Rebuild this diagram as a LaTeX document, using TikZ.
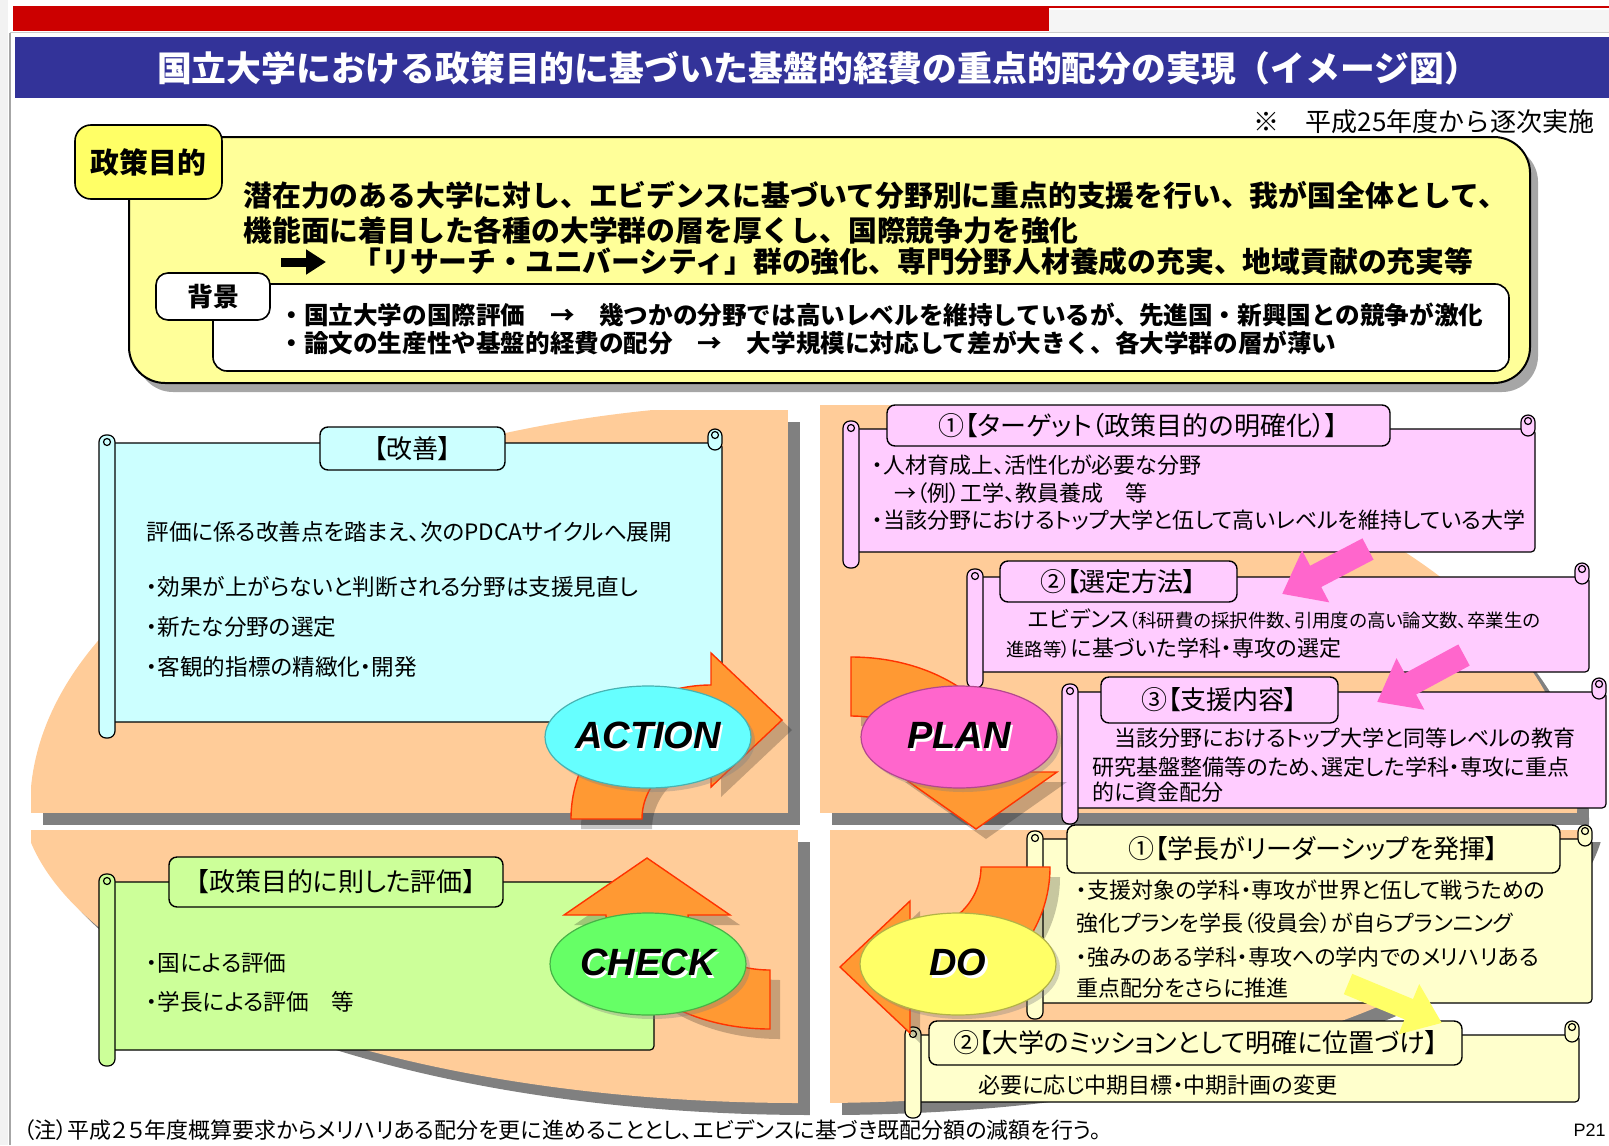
\documentclass[tikz,border=0pt]{standalone}
\usepackage{fontspec}
\setmainfont{Noto Sans CJK JP}
\newfontfamily\pfont{Noto Sans CJK JP}[RawFeature=+palt]
\newfontfamily\lsans{Liberation Sans}
\usetikzlibrary{arrows.meta,shapes.geometric,shadows}

\definecolor{redbar}{HTML}{CC0000}
\definecolor{bandblue}{HTML}{333399}
\definecolor{peach}{HTML}{FFCC99}
\definecolor{shadowgray}{HTML}{808080}
\definecolor{policy}{HTML}{FFFF99}
\definecolor{policytab}{HTML}{FFFF66}
\definecolor{cyanbox}{HTML}{CCFFFF}
\definecolor{pinkbox}{HTML}{FFCCFF}
\definecolor{creambox}{HTML}{FFFFCC}
\definecolor{greenbox}{HTML}{CCFF99}
\definecolor{bendfill}{HTML}{FF9933}
\definecolor{bendline}{HTML}{FF3300}
\definecolor{actcol}{HTML}{66FFFF}
\definecolor{plancol}{HTML}{FF66CC}
\definecolor{chkcol}{HTML}{66FF66}
\definecolor{docol}{HTML}{FFFF66}

% scroll shaped box: fill, x1, y1, x2, y2
\newcommand\rollbox[5]{%
  \filldraw[#1,draw=black,line width=0.6pt,rounded corners=2pt] (#2,#3) rectangle (#4,#5);
  \filldraw[#1,draw=black,line width=0.6pt,rounded corners=3.5pt] (#4-14,#3-14) rectangle (#4,#3+7);
  \draw[line width=0.6pt] (#4-7,#3-8) circle[radius=3.5];
  \filldraw[#1,draw=black,line width=0.6pt,rounded corners=3.5pt] (#2-8,#3-8) rectangle (#2+8,#5+16);
  \draw[line width=0.6pt] (#2,#3-1) circle[radius=3.5];
}
\newcommand\phasetext[1]{\makebox[0pt][l]{\hspace{1.2pt}\raisebox{-1.2pt}{\color{white}#1}}#1}

\begin{document}
\begin{tikzpicture}[x=0.5pt,y=-0.5pt,
  tab/.style={draw,rounded corners=4pt,line width=0.7pt,inner sep=0pt,font=\pfont\fontsize{13}{15}\selectfont},
  body/.style={anchor=west,inner sep=0pt,font=\pfont\fontsize{11}{13}\selectfont},
  bigbody/.style={body,font=\pfont\fontsize{11.3}{13}\selectfont},
  lead/.style={anchor=west,inner sep=0pt,font=\bfseries\fontsize{14.4}{16}\selectfont},
  back/.style={anchor=west,inner sep=0pt,font=\bfseries\fontsize{12.3}{14}\selectfont},
  phase/.style={ellipse,fill=#1,draw=#1!70!black,line width=0.6pt,minimum width=98pt,minimum height=51pt,
    inner sep=0pt,font=\lsans\bfseries\itshape\fontsize{19}{21}\selectfont,
    drop shadow={shadow xshift=2pt,shadow yshift=-2pt,opacity=.35}},
  cyclearrow/.style={fill=bendfill,draw=bendline,line width=0.7pt},
  cycleshadow/.style={fill=black,opacity=.22},
  pinkarrow/.style={draw=plancol,line width=12pt,-{Triangle[length=19pt,width=28pt]}},
  yelarrow/.style={draw=docol,line width=11pt,-{Triangle[length=18pt,width=26pt]}}
]
\useasboundingbox (0,0) rectangle (1609,1145);

% page frame and title band
\fill[gray!10] (0,0) rectangle (8,1145);
\fill[gray!8] (1049,10) rectangle (1609,32);
\draw[gray!70,line width=1pt] (10,33) -- (10,1145);
\draw[gray!40,line width=0.5pt] (10,33) -- (1609,33);
\fill[redbar] (13,6) rectangle (1049,31);
\fill[redbar] (1049,6) rectangle (1609,8);
\fill[bandblue] (15,37) rectangle (1609,98);
\node[font=\bfseries\fontsize{17.4}{20}\selectfont,text=white] (title) at (818,68)
  {国立大学における政策目的に基づいた基盤的経費の重点的配分の実現（イメージ図）};
\node[anchor=east,inner sep=0pt,font=\fontsize{13}{15}\selectfont] (note) at (1595,122) {※　平成25年度から逐次実施};

% policy box
\fill[black,opacity=.35,rounded corners=18pt] (137,146) rectangle (1538,392);
\filldraw[fill=policy,draw=black,line width=1pt,rounded corners=18pt] (129,137) rectangle (1530,383);
\node[draw,fill=policytab,rounded corners=8pt,line width=0.8pt,minimum width=73.5pt,minimum height=37pt,
  font=\bfseries\fontsize{14.4}{16}\selectfont] (aim) at (148.5,162) {政策目的};
\node[lead] (aim1) at (243,195) {潜在力のある大学に対し、エビデンスに基づいて分野別に重点的支援を行い、我が国全体として、};
\node[lead] (aim2) at (243,230) {機能面に着目した各種の大学群の層を厚くし、国際競争力を強化};
\coordinate (arrowtail) at (281,262);
\coordinate (arrowtip) at (326,262);
\draw[line width=4.5pt,-{Triangle[length=10pt,width=12pt]}] (arrowtail) -- (arrowtip);
\node[lead] (aim3) at (352,262) {「リサーチ・ユニバーシティ」群の強化、専門分野人材養成の充実、地域貢献の充実等};
\filldraw[fill=white,draw=black,line width=0.8pt,rounded corners=7pt] (213,284) rectangle (1509,371);
\node[draw,fill=white,rounded corners=6pt,line width=0.8pt,minimum width=57pt,minimum height=23.5pt,
  font=\bfseries\fontsize{13}{15}\selectfont] (bg) at (213,296.5) {背景};
\node[back] (bg1) at (279,315) {・国立大学の国際評価　→　幾つかの分野では高いレベルを維持しているが、先進国・新興国との競争が激化};
\node[back] (bg2) at (279,343) {・論文の生産性や基盤的経費の配分　→　大学規模に対応して差が大きく、各大学群の層が薄い};

% quadrants with shadows
\foreach \s/\c in {12/shadowgray,0/peach}{
  \begin{scope}[shift={(\s,\s)}]
    \begin{scope}\clip (795,808) ellipse [x radius=765,y radius=405]; \fill[\c] (31,410) rectangle (788,813); \end{scope}
    \begin{scope}\clip (812,808) ellipse [x radius=765,y radius=405]; \fill[\c] (820,405) rectangle (1582,813); \end{scope}
    \begin{scope}\clip (800,790) ellipse [x radius=780,y radius=313]; \fill[\c] (31,830) rectangle (798,1110); \end{scope}
    \begin{scope}\clip (815,790) ellipse [x radius=780,y radius=313]; \fill[\c] (830,830) rectangle (1590,1110); \end{scope}
  \end{scope}}

% ACTION box
\rollbox{cyanbox}{107}{443}{722}{722}
\node[tab,fill=cyanbox,minimum width=92.5pt,minimum height=21.5pt] (kaizen) at (412.5,448.5) {【改善】};
\node[bigbody] (k1) at (146,532) {評価に係る改善点を踏まえ、次のPDCAサイクルへ展開};
\node[bigbody] (k2) at (146,587) {・効果が上がらないと判断される分野は支援見直し};
\node[bigbody] (k3) at (146,627) {・新たな分野の選定};
\node[bigbody] (k4) at (146,667) {・客観的指標の精緻化・開発};

% PLAN boxes
\rollbox{pinkbox}{851}{429}{1535}{552}
\node[tab,fill=pinkbox,minimum width=251.5pt,minimum height=20.5pt] (target) at (1138.5,425.5) {①【ターゲット（政策目的の明確化）】};
\node[body] (t1) at (872,465) {・人材育成上、活性化が必要な分野};
\node[body] (t2) at (872,493) {　→（例）工学、教員養成　等};
\node[body] (t3) at (872,520) {・当該分野におけるトップ大学と伍して高いレベルを維持している大学};
\rollbox{pinkbox}{975}{577}{1589}{672}
\node[tab,fill=pinkbox,minimum width=118.5pt,minimum height=20.5pt] (method) at (1118.5,581.5) {②【選定方法】};
\node[body] (m1) at (1006,619) {　エビデンス{\fontsize{9.2}{11}\selectfont（科研費の採択件数、引用度の高い論文数、卒業生の}};
\node[body] (m2) at (1006,648) {{\fontsize{9.2}{11}\selectfont 進路等）}に基づいた学科・専攻の選定};
\rollbox{pinkbox}{1070}{692}{1606}{808}
\node[tab,fill=pinkbox,minimum width=118.5pt,minimum height=23pt] (support) at (1219.5,700) {③【支援内容】};
\node[body] (s1) at (1092,738) {　当該分野におけるトップ大学と同等レベルの教育};
\node[body] (s2) at (1092,767) {研究基盤整備等のため、選定した学科・専攻に重点};
\node[body] (s3) at (1092,792) {的に資金配分};

% DO boxes
\rollbox{creambox}{1035}{839}{1592}{1003}
\node[tab,fill=creambox,minimum width=246.5pt,minimum height=24pt] (lead) at (1313.5,849) {①【学長がリーダーシップを発揮】};
\node[body] (l1) at (1076,890) {・支援対象の学科・専攻が世界と伍して戦うための};
\node[body] (l2) at (1076,923) {強化プランを学長（役員会）が自らプランニング};
\node[body] (l3) at (1076,957) {・強みのある学科・専攻への学内でのメリハリある};
\node[body] (l4) at (1076,988) {重点配分をさらに推進};
\rollbox{creambox}{913}{1035}{1579}{1102}
\node[tab,fill=creambox,minimum width=266.5pt,minimum height=22pt] (mission) at (1195.5,1043) {②【大学のミッションとして明確に位置づけ】};
\node[body] (n1) at (978,1085) {必要に応じ中期目標・中期計画の変更};

% CHECK box
\rollbox{greenbox}{107}{882}{654}{1050}
\node[tab,fill=greenbox,minimum width=167pt,minimum height=25pt] (review) at (336,882) {【政策目的に則した評価】};
\node[bigbody] (r1) at (146,963) {・国による評価};
\node[bigbody] (r2) at (146,1002) {・学長による評価　等};

% bent arrows of the cycle
\foreach \s/\st in {10/cycleshadow,0/cyclearrow}{
  \begin{scope}[shift={(\s,\s)}]
    \path[\st] (571,819) arc[start angle=180,end angle=270,x radius=140,y radius=134]
      -- (711,653) -- (782,720) -- (711,787) -- (711,755)
      arc[start angle=270,end angle=180,x radius=69,y radius=64] -- cycle;
    \path[\st] (851,657) arc[start angle=270,end angle=360,x radius=160,y radius=115]
      -- (1057,772) -- (976,829) -- (895,772) -- (941,772)
      arc[start angle=360,end angle=270,x radius=90,y radius=56] -- cycle;
    \path[\st] (1050,867) arc[start angle=0,end angle=90,x radius=140,y radius=135]
      -- (910,1033) -- (840,967) -- (910,901) -- (910,932)
      arc[start angle=90,end angle=0,x radius=71,y radius=65] -- cycle;
    \path[\st] (770,1029) arc[start angle=90,end angle=180,x radius=164,y radius=114]
      -- (564,915) -- (647,858) -- (730,915) -- (688,915)
      arc[start angle=180,end angle=90,x radius=82,y radius=55] -- cycle;
  \end{scope}}

% step arrows between boxes
\coordinate (pinktail1) at (1368,549);
\coordinate (pinktip1) at (1282,594);
\coordinate (pinktail2) at (1464,655);
\coordinate (pinktip2) at (1377,702);
\coordinate (yeltail) at (1348,984);
\coordinate (yeltip) at (1442,1023);
\draw[pinkarrow] (pinktail1) -- (pinktip1);
\draw[pinkarrow] (pinktail2) -- (pinktip2);
\draw[yelarrow] (yeltail) -- (yeltip);

% PDCA ellipses
\node[phase=actcol] (action) at (648,737) {\phasetext{ACTION}};
\node[phase=plancol] (plan) at (959,737) {\phasetext{PLAN}};
\node[phase=chkcol] (check) at (648,964) {\phasetext{CHECK}};
\node[phase=docol] (do) at (958,964) {\phasetext{DO}};

% footnote
\node[anchor=west,inner sep=0pt,font=\pfont\fontsize{11}{13}\selectfont] (foot) at (23,1130)
  {（注）平成２５年度概算要求からメリハリある配分を更に進めることとし、エビデンスに基づき既配分額の減額を行う。};
\node[anchor=east,inner sep=0pt,font=\lsans\fontsize{9}{10}\selectfont] (page) at (1606,1130) {P21};
\end{tikzpicture}
\end{document}
